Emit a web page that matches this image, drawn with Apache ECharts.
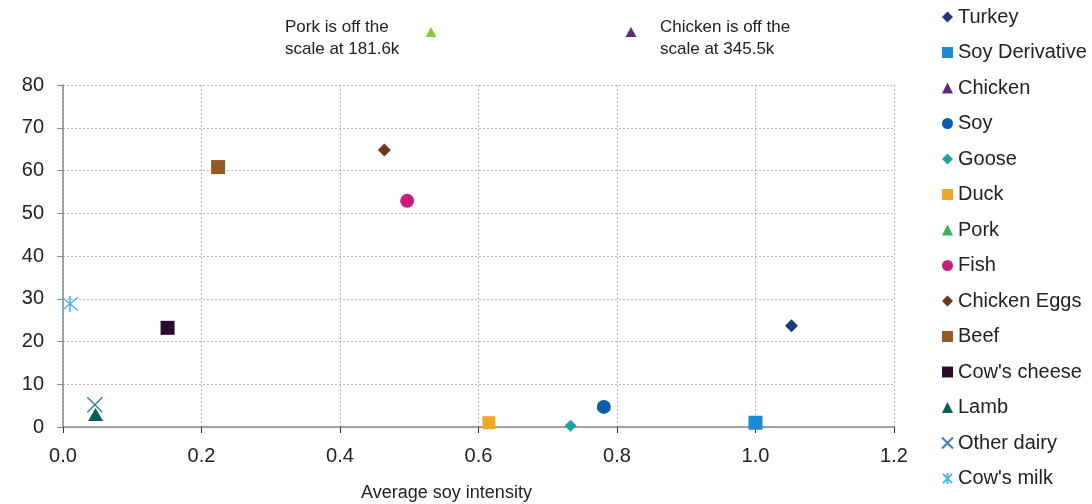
<!DOCTYPE html>
<html><head><meta charset="utf-8">
<script src="https://cdn.jsdelivr.net/npm/echarts@6/dist/echarts.min.js"></script>
<style>html,body{margin:0;padding:0;background:#fff}#c{width:1092px;height:504px}</style>
</head><body><div id="c"></div>
<script>
const seriesNames = ["Turkey","Soy Derivative","Chicken","Soy","Goose","Duck","Pork","Fish","Chicken Eggs","Beef","Cow's cheese","Lamb","Other dairy","Cow's milk"];
const xValues = [1.052, 1.0, 0.82, 0.781, 0.733, 0.615, 0.532, 0.497, 0.464, 0.224, 0.151, 0.047, 0.046, 0.010];
const yValues = [23.7, 1.0, 345.5, 4.7, 0.3, 1.0, 181.6, 52.9, 64.8, 60.8, 23.2, 2.9, 5.2, 28.8];
const colors = ["#1f3a7c","#1a8bd0","#5e2a7e","#0b5cab","#1fa3a0","#eba926","#3caf57","#c51f7b","#6b3818","#955a23","#2b0b2c","#0a5e57","#3b7bc8","#4bb5e6"];
const xTicks = [0, 0.2, 0.4, 0.6, 0.8, 1.0, 1.2];
const yTicks = [0, 10, 20, 30, 40, 50, 60, 70, 80];

const X_PATH = 'path://M0,0L10,10M10,0L0,10';
const STAR_PATH = 'path://M0,0L10,10M10,0L0,10M5,-1L5,11';
const symbols = ['diamond','rect','triangle','circle','diamond','rect','triangle','circle','diamond','rect','rect','triangle', X_PATH, STAR_PATH];
const sizes = [13, 14, 13, 14, 12, 13, 13, 14, 13, 14, 14, [15,13], 15, 16];

const FONT = 'Liberation Sans';
const chart = echarts.init(document.getElementById('c'));
const series = seriesNames.map((n, i) => {
  const isLine = i >= 12;
  return {
    name: n, type: 'scatter', clip: true,
    symbol: symbols[i], symbolSize: sizes[i],
    data: [[xValues[i], yValues[i]]],
    itemStyle: isLine ? {color: colors[i], borderColor: colors[i], borderWidth: 1.5, opacity: 1} : {color: colors[i], opacity: 1},
    z: 10 + (14 - i)
  };
});
chart.setOption({
  animation: false,
  textStyle: {fontFamily: FONT},
  grid: {left: 63, right: 198, top: 85, bottom: 77, containLabel: false, outerBoundsMode: 'none'},
  xAxis: {
    type: 'value', min: 0, max: 1.2, interval: 0.2,
    name: 'Average soy intensity', nameLocation: 'middle', nameGap: 57,
    nameTextStyle: {fontSize: 18, color: '#222', fontFamily: FONT, padding: [0, 64, 0, 0]},
    axisLine: {show: true, lineStyle: {color: '#888', width: 1.5}},
    axisTick: {show: true, length: 6, lineStyle: {color: '#333'}},
    axisLabel: {fontSize: 20, color: '#222', margin: 19, formatter: v => v.toFixed(1)},
    splitLine: {show: true, lineStyle: {color: '#bbb', type: [2, 2]}}
  },
  yAxis: {
    type: 'value', min: 0, max: 80, interval: 10,
    axisLine: {show: true, lineStyle: {color: '#888', width: 1.5}},
    axisTick: {show: true, length: 6, lineStyle: {color: '#888'}},
    axisLabel: {fontSize: 20, color: '#222', margin: 19},
    splitLine: {show: true, lineStyle: {color: '#bbb', type: [2, 2]}}
  },
  legend: {
    orient: 'vertical', left: 936, top: 2,
    itemWidth: 11, itemHeight: 11, itemGap: 15.5,
    textStyle: {fontSize: 20, color: '#222', lineHeight: 20, fontFamily: FONT},
    data: seriesNames
  },
  graphic: [
    {type: 'text', left: 285, top: 16, style: {text: 'Pork is off the\nscale at 181.6k', fontSize: 17, lineHeight: 22, fill: '#222', fontFamily: FONT}},
    {type: 'polygon', shape: {points: [[425.5, 37], [436.5, 37], [431, 27]]}, style: {fill: '#8dc63f'}},
    {type: 'text', left: 660, top: 16, style: {text: 'Chicken is off the\nscale at 345.5k', fontSize: 17, lineHeight: 22, fill: '#222', fontFamily: FONT}},
    {type: 'polygon', shape: {points: [[625.5, 37], [636.5, 37], [631, 27]]}, style: {fill: '#5e2a7e'}}
  ],
  series: series
});
</script></body></html>
